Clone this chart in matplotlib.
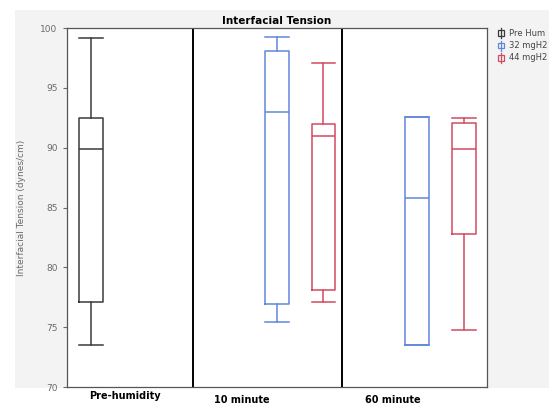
import matplotlib.pyplot as plt
from matplotlib.patches import Rectangle
from matplotlib.lines import Line2D

# groups and series
groups = ["Pre-humidity", "10 minute", "60 minute"]
# legend names as far as they are visible in the source
series = ["Pre Hum", "32 mgH2", "44 mgH2"]
colors = ["#3a3a3a", "#5f86dd", "#d24a62"]

# one box per (group, series) present
box_series = [0, 1, 2, 1, 2]
whislo = [73.5, 75.4, 77.1, 73.5, 74.8]
q1 = [77.1, 76.95, 78.1, 73.5, 82.8]
med = [89.9, 93.0, 91.0, 85.8, 89.9]
q3 = [92.5, 98.1, 92.0, 92.55, 92.1]
whishi = [99.2, 99.25, 97.1, 92.55, 92.5]

positions = [0.175, 1.5, 1.833, 2.5, 2.833]
separators = [0.9, 1.965]
label_x = [0.417, 1.252, 2.329]
label_y = [-0.011, -0.022, -0.022]

W, H = 549, 404
fig = plt.figure(figsize=(W / 100, H / 100), dpi=100)
fig.patch.set_facecolor("white")

# light grey panel behind the chart
fig.add_artist(Rectangle((15 / W, 1 - 388 / H), (W - 15) / W, 378 / H,
                         transform=fig.transFigure, facecolor="#f3f3f3",
                         edgecolor="none", zorder=0))

ax = fig.add_axes([66.5 / W, 1 - 387 / H, 420.5 / W, 359 / H])
ax.set_facecolor("white")

stats = []
for i in range(len(med)):
    stats.append({"whislo": whislo[i], "q1": q1[i], "med": med[i],
                  "q3": q3[i], "whishi": whishi[i], "fliers": []})

for i, st in enumerate(stats):
    c = colors[box_series[i]]
    ax.bxp([st], positions=[positions[i]], widths=0.17, capwidths=0.17,
           showfliers=False,
           boxprops=dict(color=c, linewidth=1.1),
           whiskerprops=dict(color=c, linewidth=1.1),
           capprops=dict(color=c, linewidth=1.1),
           medianprops=dict(color=c, linewidth=1.1))

for s in separators:
    ax.axvline(s, color="black", linewidth=1.4)

ax.set_xlim(0, 3)
ax.set_ylim(70, 100)
ax.set_xticks([])
ax.set_yticks([70, 75, 80, 85, 90, 95, 100])
ax.tick_params(axis="y", labelsize=6.5, colors="#6a6a6a", length=3, width=0.8)
for sp in ax.spines.values():
    sp.set_color("#555555")
    sp.set_linewidth(0.9)

ax.set_ylabel("Interfacial Tension (dynes/cm)", fontsize=6.5, color="#6a6a6a", labelpad=10)
ax.set_title("Interfacial Tension", fontsize=7.5, fontweight="bold", pad=3)

for x, y, g in zip(label_x, label_y, groups):
    ax.text(x, y, g, transform=ax.get_xaxis_transform(), ha="center",
            va="top", fontsize=7, fontweight="bold")

# legend with little box icons
for k, name in enumerate(series):
    yc = 1 - (33 + k * 12.5) / H
    xc = 501 / W
    c = colors[k]
    fig.add_artist(Rectangle((xc - 3 / W, yc - 2.5 / H), 6 / W, 5 / H,
                             transform=fig.transFigure, facecolor="none",
                             edgecolor=c, linewidth=0.9))
    fig.add_artist(Line2D([xc, xc], [yc - 5 / H, yc + 5 / H],
                          transform=fig.transFigure, color=c, linewidth=0.9))
    fig.text(509 / W, yc, name, fontsize=6, color="#444444", va="center", ha="left")

fig.savefig("out.png", dpi=100)
